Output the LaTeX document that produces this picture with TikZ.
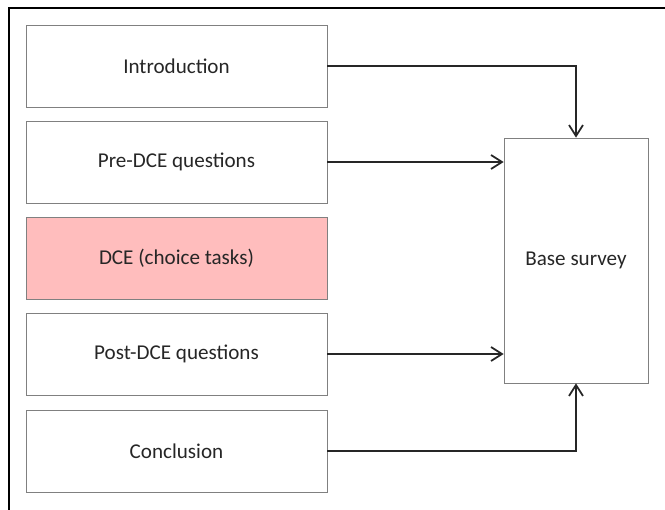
\documentclass[tikz,border=0pt]{standalone}
\usepackage{fontspec}
\setmainfont{Carlito}
\usetikzlibrary{arrows.meta}
\definecolor{dcepink}{RGB}{255,189,189}
\begin{document}
\begin{tikzpicture}
  \tikzstyle{format} = [draw=gray, thin, minimum width=6.02cm, minimum height=1.64cm, text=black!85, font=\fontsize{12}{14}\selectfont]
  \tikzstyle{flow} = [line width=1pt, black!85, -{Straight Barb[length=2.2mm,width=2.8mm]}]
  \useasboundingbox (0,0) rectangle (13.3,-10.2);
  % frame, only top and left show
  \draw [line width=1.6pt] (0.18,-10.2) -- (0.18,-0.16) -- (13.3,-0.16);

  \draw (3.53,-1.32) node[format] (intro) {Introduction};
  \draw (3.53,-3.24) node[format] (pre) {Pre-DCE questions};
  \draw (3.53,-5.16) node[format, fill=dcepink] (dce) {DCE (choice tasks)};
  \draw (3.53,-7.08) node[format] (post) {Post-DCE questions};
  \draw (3.53,-9.02) node[format] (concl) {Conclusion};
  \draw (11.52,-5.21) node[format, minimum width=2.88cm, minimum height=4.9cm] (base) {Base survey};

  \draw [flow] (intro.east) -| (base.north);
  \draw [flow] (pre.east) -- (pre.east -| base.west);
  \draw [flow] (post.east) -- (post.east -| base.west);
  \draw [flow] (concl.east) -| (base.south);
\end{tikzpicture}
\end{document}
